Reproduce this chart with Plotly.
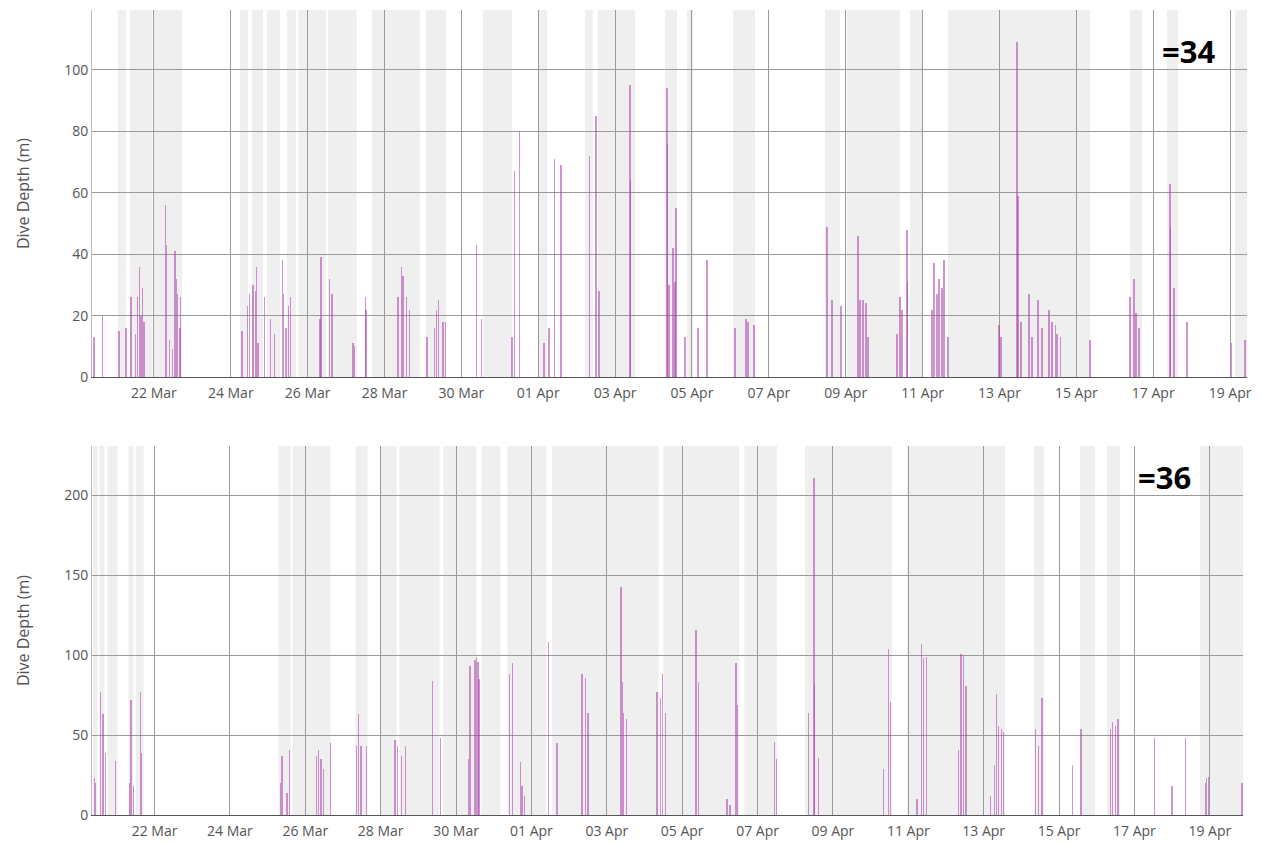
import pandas as pd
import plotly.graph_objects as go

START = pd.Timestamp("2024-03-20")

# ---------------- Panel 1 (=34) ----------------
# dive times, in days since 20 Mar 00:00
top_dive_day = [
    0.44, 0.67, 1.09, 1.27, 1.40, 1.52, 1.57, 1.62, 1.66, 1.70, 1.74,
    2.30, 2.33, 2.41, 2.49, 2.55, 2.59, 2.62, 2.68, 2.69,
    4.29, 4.43, 4.49, 4.58, 4.64, 4.67, 4.71, 4.88, 5.04, 5.14,
    5.34, 5.37, 5.44, 5.51, 5.55, 6.32, 6.35, 6.57, 6.63,
    7.18, 7.22, 7.50, 7.52, 8.35, 8.44, 8.48, 8.57, 8.65,
    9.11, 9.30, 9.35, 9.41, 9.52, 9.58, 10.40, 10.53,
    11.32, 11.39, 11.52, 12.15, 12.28, 12.43, 12.59,
    13.33, 13.50, 13.58, 14.39, 14.40,
    15.35, 15.36, 15.40, 15.51, 15.56, 15.58, 15.82, 16.16, 16.39,
    17.12, 17.41, 17.46, 17.61,
    19.51, 19.64, 19.88, 20.32, 20.37, 20.45, 20.53, 20.58,
    21.33, 21.41, 21.46, 21.59, 21.60,
    22.24, 22.30, 22.37, 22.43, 22.50, 22.56, 22.66,
    23.99, 24.04, 24.46, 24.48, 24.56, 24.77, 24.85,
    25.00, 25.11, 25.29, 25.37, 25.45, 25.50, 25.58, 26.36,
    27.40, 27.50, 27.55, 27.63, 28.44, 28.45, 28.54, 28.88,
    30.03, 30.39,
]
top_dive_depth = [
    13, 20, 15, 16, 26, 14, 26, 36, 20, 29, 18,
    56, 43, 12, 9, 41, 32, 27, 16, 26,
    15, 23, 27, 30, 28, 36, 11, 26, 19, 14,
    38, 27, 16, 23, 26, 19, 39, 32, 27,
    11, 10, 26, 22, 26, 36, 33, 26, 22,
    13, 16, 22, 25, 18, 18, 43, 19,
    13, 67, 80, 11, 16, 71, 69,
    72, 85, 28, 95, 64,
    94, 76, 30, 42, 31, 55, 13, 16, 38,
    16, 19, 18, 17,
    49, 25, 23, 46, 25, 25, 24, 13,
    14, 26, 22, 48, 31,
    22, 37, 27, 32, 29, 38, 13,
    17, 13, 109, 59, 18, 27, 13,
    25, 16, 22, 18, 17, 14, 13, 12,
    26, 32, 21, 16, 63, 49, 29, 18,
    11, 12,
]
# shaded periods (days since 20 Mar 00:00)
top_shade_start = [1.06, 1.38, 2.00, 4.24, 4.55, 4.94, 5.46, 5.76, 6.53, 7.67, 9.08,
                   10.56, 11.99, 13.22, 13.55, 15.30, 15.87, 17.07, 19.46, 20.03,
                   21.67, 22.66, 27.40, 28.36, 30.13]
top_shade_end = [1.27, 1.95, 2.73, 4.45, 4.84, 5.28, 5.70, 6.48, 7.28, 8.92, 9.60,
                 11.32, 12.23, 13.42, 14.52, 15.61, 16.03, 17.64, 19.85, 21.41,
                 22.01, 26.36, 27.71, 28.65, 30.44]
top_x_range = [0.39, 30.44]
top_y_range = [0, 119.5]

# ---------------- Panel 2 (=36) ----------------
bot_dive_day = [
    0.41, 0.44, 0.57, 0.61, 0.65, 0.69, 0.97, 1.34, 1.37, 1.44, 1.62, 1.66,
    5.34, 5.38, 5.51, 5.58, 6.29, 6.35, 6.42, 6.48, 6.66,
    7.35, 7.41, 7.48, 7.63, 8.38, 8.45, 8.56, 8.65,
    9.38, 9.58,
    10.33, 10.37, 10.50, 10.54, 10.58, 10.61,
    11.42, 11.50, 11.71, 11.75, 11.82,
    12.45, 12.68,
    13.34, 13.43, 13.50,
    14.38, 14.41, 14.45, 14.53,
    15.33, 15.42, 15.48, 15.55,
    16.37, 16.43,
    17.19, 17.27, 17.43, 17.46,
    18.45, 18.51,
    19.35, 19.50, 19.51, 19.62,
    21.35, 21.48, 21.53,
    22.23, 22.35, 22.41, 22.48,
    23.34, 23.40, 23.47, 23.53,
    24.18, 24.29, 24.34, 24.40, 24.47, 24.53,
    25.37, 25.46, 25.55,
    26.36, 26.58,
    27.36, 27.42, 27.49, 27.56,
    28.53,
    29.00, 29.35,
    29.88, 29.92, 29.97,
    30.85,
]
bot_dive_depth = [
    23, 20, 77, 63, 63, 39, 34, 20, 72, 18, 77, 39,
    20, 37, 14, 41, 37, 41, 35, 29, 45,
    43, 63, 43, 43, 47, 43, 37, 43,
    84, 48,
    35, 93, 97, 99, 96, 85,
    88, 95, 33, 18, 12,
    108, 45,
    88, 86, 64,
    143, 83, 64, 60,
    77, 73, 88, 64,
    116, 83,
    10, 6, 95, 69,
    46, 35,
    64, 211, 82, 36,
    29, 104, 71,
    10, 107, 98, 99,
    41, 101, 100, 81,
    12, 31, 76, 56, 54, 52,
    54, 43, 73,
    31, 54,
    54, 58, 56, 60,
    48,
    18, 48,
    20, 23, 24,
    20,
]
bot_shade_start = [0.36, 0.54, 0.75, 1.31, 1.50, 5.29, 5.66, 7.33, 7.99, 8.50, 9.66,
                   10.67, 11.36, 12.55, 15.50, 17.65, 19.26, 21.97, 25.34, 26.56,
                   27.27, 29.74]
bot_shade_end = [0.49, 0.67, 1.02, 1.44, 1.71, 5.61, 6.67, 7.65, 8.42, 9.56, 10.54,
                 11.18, 12.40, 15.37, 17.51, 18.52, 21.57, 24.57, 25.60, 26.95,
                 27.62, 30.88]
bot_x_range = [0.34, 30.88]
bot_y_range = [0, 231]

assert len(top_dive_day) == len(top_dive_depth)
assert len(bot_dive_day) == len(bot_dive_depth)

ANNOT = ["=34", "=36"]


def to_time(days):
    return [START + pd.to_timedelta(d, unit="D") for d in days]


BAR_COLOR = "rgba(170, 60, 170, 0.55)"
BAR_W = 0.036 * 86400000  # ms
SHADE = "#efefef"
GRID = "#9a9a9a"
FONT = "Open Sans, Noto Sans, sans-serif"

fig = go.Figure()
fig.add_trace(go.Bar(x=to_time(top_dive_day), y=top_dive_depth, width=BAR_W,
                     marker=dict(color=BAR_COLOR, line=dict(width=0)),
                     xaxis="x", yaxis="y", showlegend=False))
fig.add_trace(go.Bar(x=to_time(bot_dive_day), y=bot_dive_depth, width=BAR_W,
                     marker=dict(color=BAR_COLOR, line=dict(width=0)),
                     xaxis="x2", yaxis="y2", showlegend=False))

shapes = []
for s, e in zip(top_shade_start, top_shade_end):
    t0, t1 = to_time([s, e])
    shapes.append(dict(type="rect", xref="x", yref="y domain", x0=t0, x1=t1, y0=0, y1=1,
                       fillcolor=SHADE, line=dict(width=0), layer="below"))
for s, e in zip(bot_shade_start, bot_shade_end):
    t0, t1 = to_time([s, e])
    shapes.append(dict(type="rect", xref="x2", yref="y2 domain", x0=t0, x1=t1, y0=0, y1=1,
                       fillcolor=SHADE, line=dict(width=0), layer="below"))

xaxis_common = dict(
    type="date", tickformat="%d %b", dtick=2 * 86400000, tick0="2024-03-22",
    showgrid=True, gridcolor=GRID, gridwidth=1, showline=True, linecolor="#555",
    linewidth=1, ticks="", tickfont=dict(size=14, color="#555", family=FONT),
    zeroline=False, automargin=False, ticklabelstandoff=3,
)
yaxis_common = dict(
    showgrid=True, gridcolor=GRID, gridwidth=1, showline=True, linecolor="#bbb",
    linewidth=1, ticks="", tickfont=dict(size=14, color="#555", family=FONT),
    zeroline=False, automargin=False,
    title=dict(text="Dive Depth (m)", font=dict(size=16, color="#555", family=FONT), standoff=30),
)

# the page body adds an 8px offset, so sizes/margins compensate for it
fig.update_layout(
    width=1247, height=836,
    margin=dict(l=84, r=8, t=2, b=29),
    paper_bgcolor="white", plot_bgcolor="white",
    barmode="overlay", bargap=0,
    shapes=shapes,
    xaxis=dict(xaxis_common, domain=[0, 1], anchor="y",
               range=to_time(top_x_range)),
    yaxis=dict(yaxis_common, domain=[0.544, 1.0], anchor="x",
               range=top_y_range, dtick=20),
    xaxis2=dict(xaxis_common, domain=[0, 0.9965], anchor="y2",
                range=to_time(bot_x_range)),
    yaxis2=dict(yaxis_common, domain=[0, 0.4584], anchor="x2",
                range=bot_y_range, dtick=50),
    annotations=[
        dict(text=ANNOT[0], xref="paper", yref="paper", x=0.949, y=0.949,
             xanchor="center", yanchor="middle",
             showarrow=False, font=dict(size=31, color="black", family=FONT, weight="bold")),
        dict(text=ANNOT[1], xref="paper", yref="paper", x=0.929, y=0.42,
             xanchor="center", yanchor="middle",
             showarrow=False, font=dict(size=31, color="black", family=FONT, weight="bold")),
    ],
)

fig.write_html("out.html")
